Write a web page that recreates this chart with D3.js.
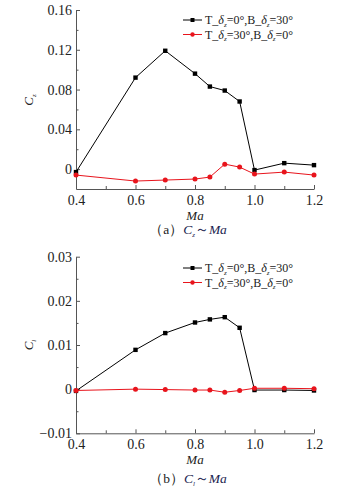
<!DOCTYPE html>
<html>
<head>
<meta charset="utf-8">
<script src="https://cdn.jsdelivr.net/npm/d3@7"></script>
<style>
  body { margin: 0; background: #fff; }
  svg text { font-family: "Liberation Serif", "DejaVu Serif", serif; fill: #222; }
</style>
</head>
<body>
<svg id="chart" width="341" height="492" font-family="Liberation Serif, serif"></svg>
<script>
// Mach numbers shared by both panels
const mach = [0.4, 0.6, 0.7, 0.8, 0.85, 0.9, 0.95, 1.0, 1.1, 1.2];
const xTicks = [0.4, 0.6, 0.8, 1.0, 1.2];

// (a) Cz ~ Ma
const czTop0Bot30 = [-0.003, 0.092, 0.119, 0.096, 0.083, 0.079, 0.068, -0.001, 0.006, 0.004];
const czTop30Bot0 = [-0.006, -0.012, -0.011, -0.010, -0.008, 0.005, 0.002, -0.005, -0.003, -0.006];
const czTicks = [0, 0.04, 0.08, 0.12, 0.16];

// (b) Cl ~ Ma
const clTop0Bot30 = [-0.0004, 0.0089, 0.0127, 0.0151, 0.0158, 0.0163, 0.0139, -0.0002, -0.0002, -0.0003];
const clTop30Bot0 = [-0.0003, 0.0000, -0.0001, -0.0002, -0.0002, -0.0007, -0.0003, 0.0002, 0.0002, 0.0001];
const clTicks = [-0.01, 0, 0.01, 0.02, 0.03];

const svg = d3.select('svg#chart');
const x = d3.scaleLinear().domain([0.4, 1.2]).range([76, 314]);
const axisColor = '#555';

function legendLabel(g, y, top, bot) {
    // T_δz=..°,B_δz=..°
    let t = g.append('text').attr('x', 205).attr('y', y + 4).style('font-size', '12px');
    t.append('tspan').text('T_');
    t.append('tspan').style('font-style', 'italic').text('δ');
    t.append('tspan').attr('dy', 2.5).style('font-size', '7px').style('font-style', 'italic').text('z');
    t.append('tspan').attr('dy', -2.5).text('=' + top + '°,B_');
    t.append('tspan').style('font-style', 'italic').text('δ');
    t.append('tspan').attr('dy', 2.5).style('font-size', '7px').style('font-style', 'italic').text('z');
    t.append('tspan').attr('dy', -2.5).text('=' + bot + '°');
}

function panel(opt) {
    let g = svg.append('g');
    let y = d3.scaleLinear().domain(opt.domain).range(opt.range);

    // axes, ticks pointing inward
    let xa = g.append('g').attr('transform', 'translate(0,' + opt.range[0] + ')')
        .call(d3.axisBottom(x).tickValues(xTicks).tickFormat(d3.format('.1f')).tickSizeInner(-4).tickSizeOuter(0));
    xa.append('g').call(d3.axisBottom(x).tickValues([0.5, 0.7, 0.9, 1.1]).tickFormat('').tickSizeInner(-3).tickSizeOuter(0))
        .select('.domain').remove();
    let ya = g.append('g').attr('transform', 'translate(76,0)')
        .call(d3.axisLeft(y).tickValues(opt.ticks).tickFormat(opt.fmt).tickSizeInner(-4).tickSizeOuter(0));
    ya.append('g').call(d3.axisLeft(y).tickValues(opt.minor).tickFormat('').tickSizeInner(-2.5).tickSizeOuter(0))
        .select('.domain').remove();
    [xa, ya].forEach(a => a.attr('font-family', 'Liberation Serif, serif').attr('font-size', 14));
    g.selectAll('.domain, .tick line').attr('stroke', axisColor);
    g.selectAll('.tick text').attr('fill', '#222');
    xa.selectAll('.tick text').attr('dy', '0.9em');
    ya.selectAll('.tick text').attr('x', -4);

    // axis titles
    g.append('text').attr('x', 195).attr('y', opt.range[0] + 31)
        .attr('text-anchor', 'middle').style('font-size', '13px').style('font-style', 'italic').text('Ma');
    let yl = g.append('text').attr('transform', 'translate(33,' + opt.ylabY + ') rotate(-90)')
        .attr('text-anchor', 'middle').style('font-size', '13px');
    yl.append('tspan').style('font-style', 'italic').text('C');
    yl.append('tspan').attr('dy', 3).style('font-size', '7px').style('font-style', 'italic').text(opt.sub);

    // caption
    let cap = g.append('text').attr('x', 188).attr('y', opt.capY)
        .attr('text-anchor', 'middle').style('font-size', '13.5px');
    cap.append('tspan').text('（' + opt.tag + '）');
    cap.append('tspan').style('font-style', 'italic').attr('fill', '#1b2450').text('C');
    cap.append('tspan').attr('dy', 3).style('font-size', '7px').style('font-style', 'italic').attr('fill', '#1b2450').text(opt.sub);
    cap.append('tspan').attr('dy', -3).attr('fill', '#1b2450').text('～');
    cap.append('tspan').style('font-style', 'italic').attr('fill', '#1b2450').text('Ma');

    let line = d3.line().x((d, i) => x(mach[i])).y(d => y(d));
    let series = [
        {vals: opt.black, color: '#000', shape: 'square'},
        {vals: opt.red, color: '#e8141c', shape: 'circle'}
    ];
    series.forEach(s => {
        g.append('path').datum(s.vals).attr('d', line)
            .attr('fill', 'none').attr('stroke', s.color).attr('stroke-width', 1);
        if (s.shape === 'square') {
            g.selectAll(null).data(s.vals).enter().append('rect')
                .attr('x', (d, i) => x(mach[i]) - 2.2).attr('y', d => y(d) - 2.2)
                .attr('width', 4.4).attr('height', 4.4).attr('fill', s.color);
        } else {
            g.selectAll(null).data(s.vals).enter().append('circle')
                .attr('cx', (d, i) => x(mach[i])).attr('cy', d => y(d))
                .attr('r', 2.5).attr('fill', s.color);
        }
    });

    // legend
    let lg = g.append('g');
    [{c: '#000', sq: true, y: opt.legY, top: 0, bot: 30},
     {c: '#e8141c', sq: false, y: opt.legY + 14.5, top: 30, bot: 0}].forEach(l => {
        lg.append('line').attr('x1', 183).attr('x2', 202).attr('y1', l.y).attr('y2', l.y)
            .attr('stroke', l.c).attr('stroke-width', 1);
        if (l.sq) lg.append('rect').attr('x', 190.5).attr('y', l.y - 2).attr('width', 4).attr('height', 4).attr('fill', l.c);
        else lg.append('circle').attr('cx', 192.5).attr('cy', l.y).attr('r', 2.2).attr('fill', l.c);
        legendLabel(lg, l.y, l.top, l.bot);
    });
}

panel({
    domain: [-0.02, 0.16], range: [189, 10], ticks: czTicks, fmt: d => d === 0 ? '0' : d3.format('.2f')(d),
    minor: [0.02, 0.06, 0.10, 0.14],
    black: czTop0Bot30, red: czTop30Bot0, sub: 'z', tag: 'a',
    ylabY: 100, capY: 234, legY: 20
});
panel({
    domain: [-0.01, 0.03], range: [433.3, 256.7], ticks: clTicks, fmt: d => d === 0 ? '0' : d3.format('.2f')(d),
    minor: [-0.005, 0.005, 0.015, 0.025],
    black: clTop0Bot30, red: clTop30Bot0, sub: 'l', tag: 'b',
    ylabY: 345, capY: 483, legY: 268
});
</script>
</body>
</html>
